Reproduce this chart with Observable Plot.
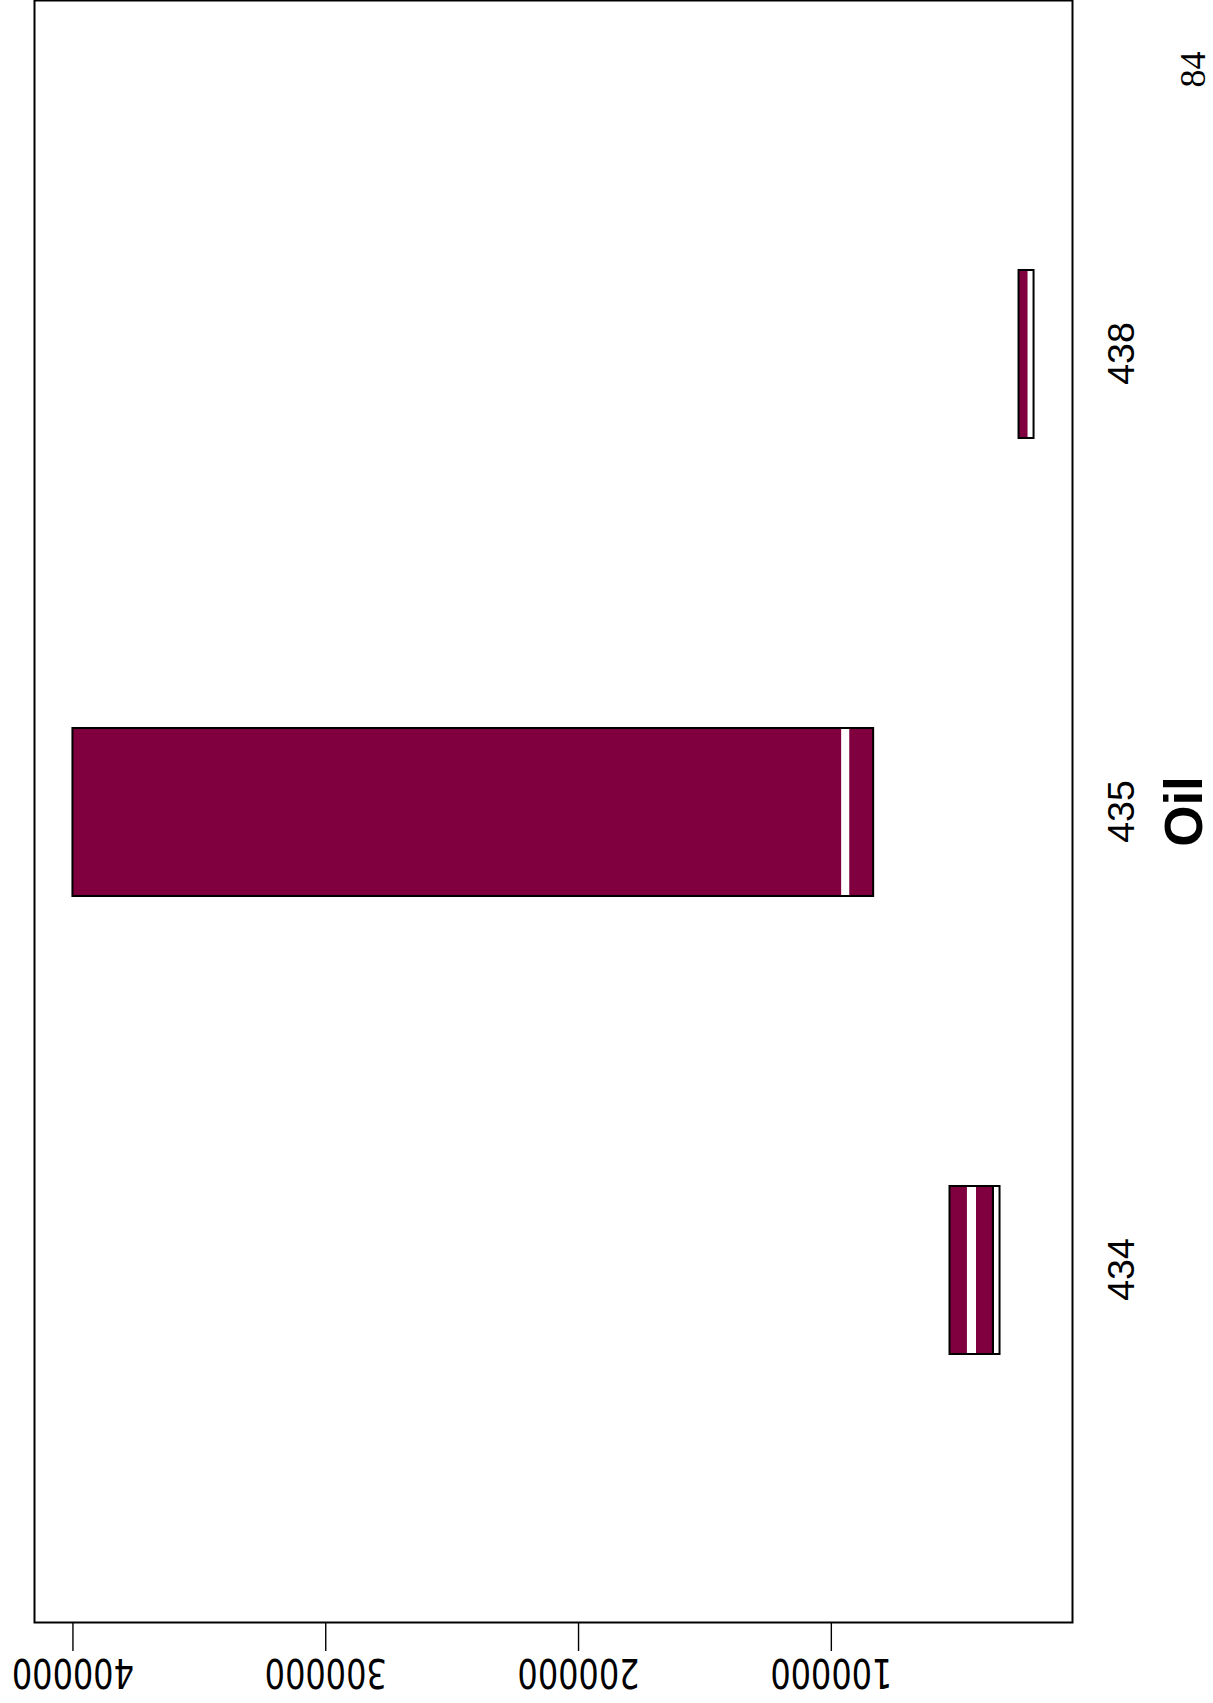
<!DOCTYPE html>
<html>
<head>
<meta charset="utf-8">
<script src="https://cdn.jsdelivr.net/npm/d3@7"></script>
<script src="https://cdn.jsdelivr.net/npm/@observablehq/plot@0.6"></script>
<style>
  html, body { margin: 0; padding: 0; background: #ffffff; }
  #page { position: relative; width: 1213px; height: 1703px; overflow: hidden; background: #ffffff; }
  #page svg { position: absolute; left: 0; top: 0; transform-origin: 0 0; transform: translate(0px, 1703px) rotate(-90deg); }
</style>
</head>
<body>
<div id="page"></div>
<script>
// ---- data ----
const categories = ["434", "435", "438"];

// stacked segments of each floating bar
const segCategory = ["434", "434", "434", "434", "435", "435", "435", "438", "438"];
const segLow      = [33270, 35880, 42610, 46170, 83260, 92760, 95920, 19810, 22190];
const segHigh     = [35880, 42610, 46170, 53060, 92760, 95920, 400000, 22190, 25750];
const segKind     = ["blank", "filled", "blank", "filled", "filled", "blank", "filled", "blank", "filled"];

// outlined groups of each bar
const outlineCategory = ["434", "434", "435", "438"];
const outlineLow      = [33270, 35880, 83260, 19810];
const outlineHigh     = [35880, 53060, 400000, 25750];

const valueTicks = [100000, 200000, 300000, 400000];
const xLabel = "Oil";
const pageNumber = "84";

// ---- tables built from the arrays ----
const segments = segCategory.map((c, i) => ({category: c, low: segLow[i], high: segHigh[i], kind: segKind[i]}));
const outlines = outlineCategory.map((c, i) => ({category: c, low: outlineLow[i], high: outlineHigh[i]}));

// R-style 4% axis expansion
const vmin = d3.min(segLow), vmax = d3.max(segHigh);
const pad = (vmax - vmin) * 0.04;

const sansFont = "'Liberation Sans', Arial, sans-serif";
const narrowFont = "'Liberation Sans Narrow', 'DejaVu Sans Condensed', 'Liberation Sans', sans-serif";

const chart = Plot.plot({
  width: 1703,
  height: 1213,
  marginLeft: 80,
  marginRight: 1,
  marginTop: 34,
  marginBottom: 141,
  style: {maxWidth: "none", background: "#ffffff", overflow: "visible", fontFamily: sansFont},
  x: {type: "band", domain: categories, paddingInner: 0.634, paddingOuter: 0.587, axis: null},
  y: {domain: [vmin - pad, vmax + pad], axis: null},
  color: {domain: ["filled", "blank"], range: ["#80003F", "#ffffff"]},
  marks: [
    Plot.barY(segments, {x: "category", y1: "low", y2: "high", fill: "kind"}),
    Plot.barY(outlines, {x: "category", y1: "low", y2: "high", fill: "none", stroke: "black", strokeWidth: 2}),
    Plot.frame({stroke: "black", strokeWidth: 2}),
    Plot.axisY(valueTicks, {anchor: "left", tickSize: 28, tickFormat: () => "", label: null, stroke: "black", strokeWidth: 1.4}),
    Plot.text(valueTicks, {
      y: d => d, text: d => String(d), frameAnchor: "left", rotate: -90, dx: -36,
      textAnchor: "middle", lineAnchor: "bottom", fontSize: 40, fontFamily: narrowFont, fill: "black"
    }),
    Plot.text(categories, {
      x: d => d, text: d => d, frameAnchor: "bottom", dy: 61,
      lineAnchor: "bottom", fontSize: 37.5, fontFamily: sansFont, fill: "black"
    }),
    Plot.text([xLabel], {
      text: d => d, frameAnchor: "bottom", dy: 129, lineAnchor: "bottom",
      fontSize: 53, fontWeight: "bold", fontFamily: sansFont, fill: "black"
    }),
    Plot.text([pageNumber], {
      text: d => d, frameAnchor: "bottom-right", dx: -69, dy: 132, textAnchor: "middle",
      lineAnchor: "bottom", fontSize: 36, fontFamily: "'Liberation Serif', serif", fill: "black"
    })
  ]
});

// condensed look of the value tick labels
const tickLabelSet = new Set(valueTicks.map(String));
d3.select(chart).selectAll("text")
  .filter(function() { return tickLabelSet.has(this.textContent.trim()); })
  .attr("textLength", 122)
  .attr("lengthAdjust", "spacingAndGlyphs");

document.getElementById("page").appendChild(chart);
</script>
</body>
</html>
